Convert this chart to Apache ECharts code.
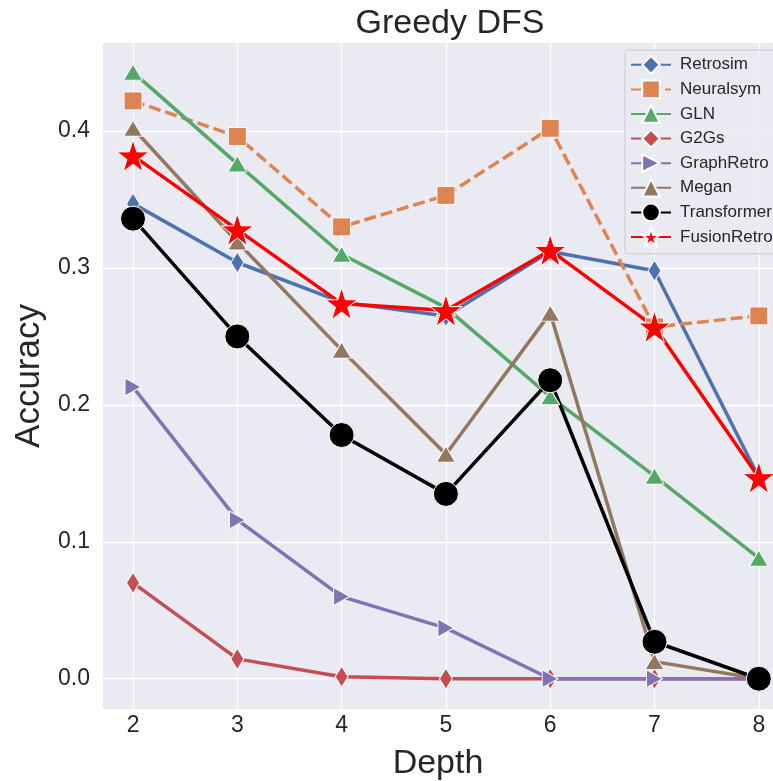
<!DOCTYPE html>
<html><head><meta charset="utf-8">
<script src="https://cdn.jsdelivr.net/npm/echarts@6/dist/echarts.min.js"></script>
<style>html,body{margin:0;padding:0;background:#fff}#c{width:773px;height:781px}</style>
</head><body><div id="c"></div>
<script>
const depths = [2, 3, 4, 5, 6, 7, 8];
const xTicks = [2, 3, 4, 5, 6, 7, 8];
const yTicks = [0, 0.1, 0.2, 0.3, 0.4];
const retrosim    = [0.347, 0.304, 0.275, 0.265, 0.312, 0.298, 0.147];
const neuralsym   = [0.422, 0.396, 0.330, 0.353, 0.402, 0.257, 0.265];
const gln         = [0.443, 0.376, 0.310, 0.271, 0.206, 0.148, 0.088];
const g2gs        = [0.070, 0.0145, 0.0015, 0.0, 0.0, 0.0, 0.0];
const graphretro  = [0.213, 0.116, 0.060, 0.037, 0.0, 0.0, 0.0];
const megan       = [0.402, 0.319, 0.240, 0.164, 0.267, 0.0125, 0.0];
const transformer = [0.336, 0.250, 0.178, 0.135, 0.218, 0.027, 0.0];
const fusionretro = [0.382, 0.328, 0.274, 0.269, 0.313, 0.257, 0.147];

const FONT = '"Liberation Sans", Arial, sans-serif';
const TXT = '#262626';
const star = 'path://M50,0 L61.2,34.5 L97.6,34.5 L68.2,55.9 L79.4,90.5 L50,69.1 L20.6,90.5 L31.8,55.9 L2.4,34.5 L38.8,34.5 Z';

function mk(name, vals, color, symbol, size, extra) {
  return Object.assign({
    name: name, type: 'line',
    data: depths.map((d, i) => [d, vals[i]]),
    symbol: symbol, symbolSize: size, showAllSymbol: true,
    lineStyle: { color: color, width: 3.5 },
    itemStyle: { color: color, borderColor: '#ffffff', borderWidth: 1 },
    emphasis: { disabled: true },
    animation: false
  }, extra || {});
}

const series = [
  mk('Retrosim', retrosim, '#4C72B0', 'diamond', [13, 21]),
  mk('Neuralsym', neuralsym, '#DD8452', 'rect', [18, 18], { lineStyle: { color: '#DD8452', width: 3.5, type: [12, 5] } }),
  mk('GLN', gln, '#55A868', 'triangle', [19, 16]),
  mk('G2Gs', g2gs, '#C44E52', 'diamond', [13, 21]),
  mk('GraphRetro', graphretro, '#8172B3', 'triangle', [18, 16], { symbolRotate: -90 }),
  mk('Megan', megan, '#937860', 'triangle', [19, 16]),
  mk('Transformer', transformer, '#000000', 'circle', 25),
  mk('FusionRetro', fusionretro, '#FF0000', star, 32)
];

const chart = echarts.init(document.getElementById('c'), null, { renderer: 'canvas' });
chart.setOption({
  backgroundColor: '#ffffff',
  animation: false,
  title: {
    text: 'Greedy DFS', left: 445, top: 2, textAlign: 'center',
    textStyle: { fontFamily: FONT, fontSize: 34, fontWeight: 'normal', color: TXT }
  },
  grid: { left: 103, right: 0, top: 43, bottom: 72, backgroundColor: '#EAEAF2', show: true, borderWidth: 0, outerBoundsMode: 'none' },
  legend: {
    orient: 'vertical', left: 625, top: 50,
    itemWidth: 40, itemHeight: 22, itemGap: 5,
    padding: [5, 20, 7, 5],
    backgroundColor: 'rgba(234,234,242,0.8)', borderColor: '#cccccc', borderWidth: 1, borderRadius: 3,
    textStyle: { fontFamily: FONT, fontSize: 17, color: TXT, padding: [0, 0, 0, 4] },
    data: series.map(s => s.name)
  },
  xAxis: {
    type: 'value', min: 1.712, max: 8.136,
    name: 'Depth', nameLocation: 'middle', nameGap: 38,
    nameTextStyle: { fontFamily: FONT, fontSize: 34, color: TXT },
    axisLine: { show: false }, axisTick: { show: false, customValues: xTicks },
    axisLabel: { customValues: xTicks, fontFamily: FONT, fontSize: 23, color: TXT, margin: 5 },
    splitLine: { show: true, lineStyle: { color: '#ffffff', width: 1.3 } }
  },
  yAxis: {
    type: 'value', min: -0.0221, max: 0.4643,
    name: 'Accuracy', nameLocation: 'middle', nameGap: 56,
    nameTextStyle: { fontFamily: FONT, fontSize: 35, color: TXT },
    axisLine: { show: false }, axisTick: { show: false, customValues: yTicks },
    axisLabel: { customValues: yTicks, fontFamily: FONT, fontSize: 23, color: TXT, margin: 13,
      formatter: v => v.toFixed(1) },
    splitLine: { show: true, lineStyle: { color: '#ffffff', width: 1.3 } }
  },
  series: series
});
</script></body></html>
